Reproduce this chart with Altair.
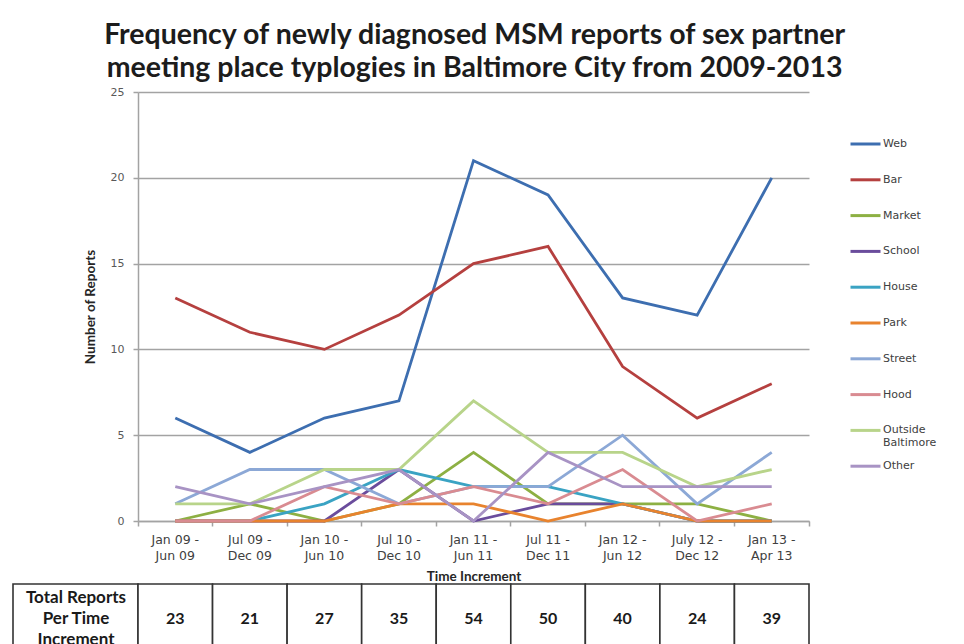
import altair as alt
import pandas as pd

# ---------------- data ----------------
periods = ["Jan 09 - Jun 09", "Jul 09 - Dec 09", "Jan 10 - Jun 10", "Jul 10 - Dec 10",
           "Jan 11 - Jun 11", "Jul 11 - Dec 11", "Jan 12 - Jun 12", "July 12 - Dec 12",
           "Jan 13 - Apr 13"]
series_names = ["Web", "Bar", "Market", "School", "House", "Park", "Street", "Hood",
                "Outside Baltimore", "Other"]
web = [6, 4, 6, 7, 21, 19, 13, 12, 20]
bar = [13, 11, 10, 12, 15, 16, 9, 6, 8]
market = [0, 1, 0, 1, 4, 1, 1, 1, 0]
school = [0, 0, 0, 3, 0, 1, 1, 0, 0]
house = [0, 0, 1, 3, 2, 2, 1, 0, 0]
park = [0, 0, 0, 1, 1, 0, 1, 0, 0]
street = [1, 3, 3, 1, 2, 2, 5, 1, 4]
hood = [0, 0, 2, 1, 2, 1, 3, 0, 1]
outside_baltimore = [1, 1, 3, 3, 7, 4, 4, 2, 3]
other = [2, 1, 2, 3, 0, 4, 2, 2, 2]
totals = [23, 21, 27, 35, 54, 50, 40, 24, 39]
colors = ["#3D6EB0", "#B5403F", "#8DB043", "#6A4C9C", "#3AA3C3", "#E8832E",
          "#8CA8D6", "#D98B91", "#B8D48A", "#A893C4"]
title_lines = ["Frequency of newly diagnosed MSM reports of sex partner",
               "meeting place typlogies in Baltimore City from 2009-2013"]
table_header = ["Total Reports", "Per Time", "Increment"]
y_ticks = [0, 5, 10, 15, 20, 25]

series_values = [web, bar, market, school, house, park, street, hood, outside_baltimore, other]
rows = []
for name, vals in zip(series_names, series_values):
    for p, v in zip(periods, vals):
        rows.append({"series": name, "period": p, "reports": v})
df = pd.DataFrame(rows)
tdf = pd.DataFrame({"period": periods, "total": totals})
hdf = pd.DataFrame({"label": [" ".join(table_header)]})

# ---------------- layout constants ----------------
W, H, TH = 671, 429, 70
GRAY = "#A3A3A3"

xscale = alt.Scale(type="band", domain=periods, paddingInner=0, paddingOuter=0)

lines = alt.Chart(df).mark_line(strokeWidth=2.8).encode(
    x=alt.X("period:N", scale=xscale, axis=alt.Axis(
        orient="bottom", title="Time Increment", labelAngle=0,
        labelExpr="[split(datum.label, ' - ')[0] + ' -', split(datum.label, ' - ')[1]]",
        ticks=False, domain=True, domainColor=GRAY, domainWidth=1.5, grid=False,
        labelFont="DejaVu Sans", labelFontSize=12.5, labelColor="#404040",
        labelLineHeight=16, labelPadding=12,
        titleFont="Lato", titleFontWeight="bold", titleFontSize=13.5,
        titleColor="#262626", titlePadding=8)),
    y=alt.Y("reports:Q", scale=alt.Scale(domain=[0, 25], nice=False), axis=alt.Axis(
        values=y_ticks, title="Number of Reports", grid=True, gridColor=GRAY,
        gridWidth=1.5, domainColor=GRAY, domainWidth=1.5, tickColor=GRAY,
        tickSize=5, tickWidth=1.5, labelFont="DejaVu Sans", labelFontSize=11,
        labelColor="#595959", labelPadding=9, titleFont="Lato", titleFontSize=13.5,
        titleFontWeight="bold", titleColor="#262626", titlePadding=13)),
    color=alt.Color("series:N", scale=alt.Scale(domain=series_names, range=colors),
                    legend=alt.Legend(
                        title=None, orient="none", legendX=711, legendY=35.5,
                        symbolType="stroke", symbolSize=900, symbolStrokeWidth=3,
                        rowPadding=0.8, padding=0, labelFont="DejaVu Sans",
                        labelFontSize=11, labelColor="#404040", labelOffset=1,
                        labelExpr="datum.label == 'Outside Baltimore' ? ['Outside', 'Baltimore'] : [datum.label, ' ']")),
)

ticks = alt.Chart(tdf).mark_point(opacity=0).encode(
    x=alt.X("period:N", scale=xscale, axis=alt.Axis(
        orient="bottom", bandPosition=1, tickExtra=True, labels=False,
        domain=False, grid=False, ticks=True, tickSize=5, tickWidth=1.5,
        tickColor=GRAY, title=None)),
    y=alt.value(0),
)

top = alt.layer(lines, ticks).resolve_axis(x="independent").properties(width=W, height=H)

cells = alt.Chart(tdf).mark_rect(fill="white", stroke="#333333", strokeWidth=1.6).encode(
    x=alt.X("period:N", scale=xscale, axis=None))
nums = alt.Chart(tdf).mark_text(font="Lato", fontSize=16, fontWeight="bold",
                                color="#1a1a1a").encode(
    x=alt.X("period:N", scale=xscale, axis=None), text="total:Q")
head_rect = alt.Chart(hdf).mark_rect(fill="white", stroke="#333333", strokeWidth=1.6).encode(
    x=alt.value(-125), x2=alt.value(0), y=alt.value(0), y2=alt.value(TH))
head_text = alt.Chart(hdf).mark_text(text=table_header, lineHeight=21, font="Lato",
                                     fontSize=17, fontWeight="bold", color="#1a1a1a",
                                     align="center", baseline="middle").encode(
    x=alt.value(-62), y=alt.value(TH / 2 - 21))
table = alt.layer(head_rect, cells, nums, head_text).properties(width=W, height=TH)

chart = alt.vconcat(top, table, spacing=0).properties(
    title=alt.TitleParams(text=title_lines, font="Lato", fontSize=28.5, fontWeight="bold",
                          color="#1c1c1c", lineHeight=33, anchor="middle", offset=4),
    padding={"left": 4, "top": 12, "right": 5, "bottom": 5},
).configure(background="white").configure_view(stroke=None)

chart.save("out.html", embed_options={"renderer": "svg", "actions": False})
